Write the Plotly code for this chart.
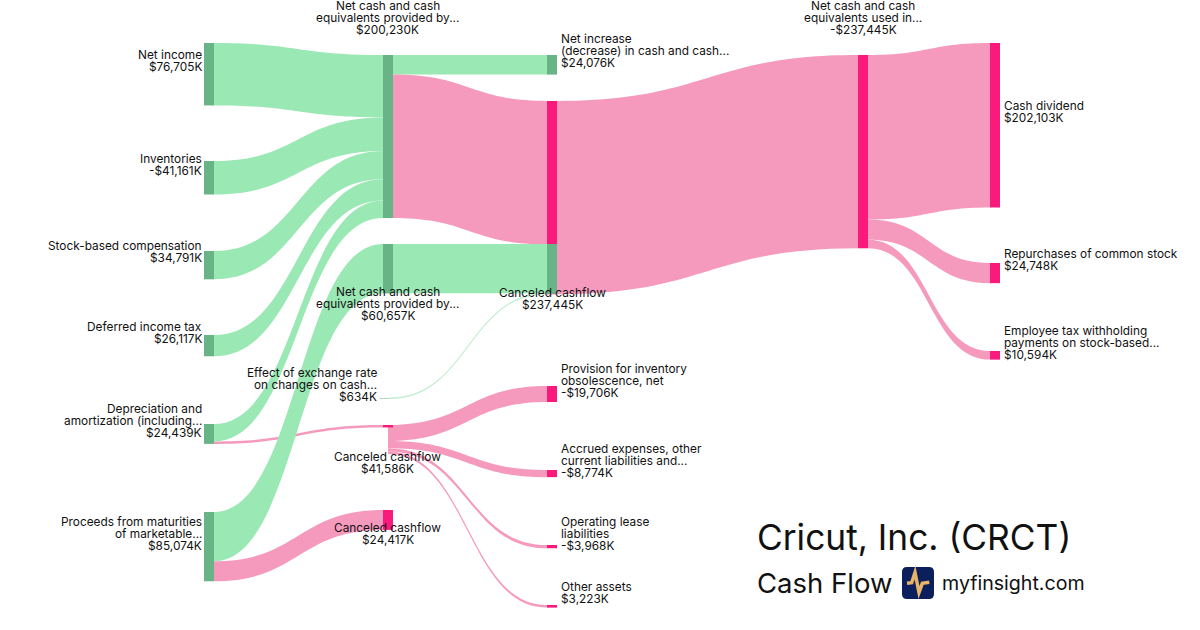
import plotly.graph_objects as go

# ---- data ----
node_names = ["Net income", "Inventories", "Stock-based compensation", "Deferred income tax",
              "Depreciation and amortization", "Proceeds from maturities of marketable",
              "Net cash provided by A", "Net cash provided by B", "Effect of exchange rate",
              "Canceled cashflow 41586", "Canceled cashflow 41586 out", "Canceled cashflow 24417",
              "Net increase", "Canceled cashflow 237445", "Provision for inventory", "Accrued expenses",
              "Operating lease", "Other assets", "Net cash used", "Cash dividend", "Repurchases", "Employee tax",
              "Canceled cashflow 237445 green part"]
link_source = [0, 1, 2, 3, 4, 4, 5, 5, 6, 6, 7, 8, 10, 10, 10, 10, 13, 18, 18, 18]
link_target = [6, 6, 6, 6, 9, 6, 7, 11, 12, 13, 22, 22, 14, 15, 16, 17, 18, 19, 20, 21]
link_value = [76705, 41161, 34791, 26117, 2983, 21456, 60657, 24417, 24076, 176154, 60657, 634,
              19706, 8774, 3968, 3223, 237445, 202103, 24748, 10594]
link_kind = ["g", "g", "g", "g", "p", "g", "g", "p", "g", "p", "g", "faint",
             "p", "p", "p", "p", "p", "p", "p", "p"]
node_kind = ["g", "g", "g", "g", "g", "g", "g", "g", "g", "p", "none", "p",
             "g", "p", "p", "p", "p", "p", "p", "p", "p", "p", "g"]

# ---- layout of the nodes (pixels of the 1200x630 picture) ----
W, H = 1200, 630
PX_PER_VALUE = 0.000814
node_center_x = [209, 209, 209, 209, 209, 209, 388, 388, 384.5, 388, 383, 388,
                 552, 552, 552, 552, 552, 552, 863, 995, 995, 995, 552]
node_top = [43, 161, 251, 335, 424, 512, 55, 244, 398, 425, 425, 510,
            55, 101, 386, 470, 545, 605, 55, 43, 263, 351, 244]

# ---- labels: (lines, x, first line y, anchor) ----
labels = [
    (["Net income", "$76,705K"], 203, 54.8, "right"),
    (["Inventories", "-$41,161K"], 203, 158.8, "right"),
    (["Stock-based compensation", "$34,791K"], 203, 245.8, "right"),
    (["Deferred income tax", "$26,117K"], 203, 326.8, "right"),
    (["Depreciation and", "amortization (including...", "$24,439K"], 203, 408.8, "right"),
    (["Proceeds from maturities", "of marketable...", "$85,074K"], 203, 521.8, "right"),
    (["Net cash and cash", "equivalents provided by...", "$200,230K"], 388, 6, "center"),
    (["Net cash and cash", "equivalents provided by...", "$60,657K"], 388, 292, "center"),
    (["Effect of exchange rate", "on changes on cash...", "$634K"], 378, 372.8, "right"),
    (["Canceled cashflow", "$41,586K"], 388, 457, "center"),
    (["Canceled cashflow", "$24,417K"], 388, 528, "center"),
    (["Canceled cashflow", "$237,445K"], 552, 293, "center"),
    (["Net increase", "(decrease) in cash and cash...", "$24,076K"], 560, 38.8, "left"),
    (["Provision for inventory", "obsolescence, net", "-$19,706K"], 560, 368.8, "left"),
    (["Accrued expenses, other", "current liabilities and...", "-$8,774K"], 560, 448.8, "left"),
    (["Operating lease", "liabilities", "-$3,968K"], 560, 521.8, "left"),
    (["Other assets", "$3,223K"], 560, 586.8, "left"),
    (["Net cash and cash", "equivalents used in...", "-$237,445K"], 863, 6, "center"),
    (["Cash dividend", "$202,103K"], 1003, 105.8, "left"),
    (["Repurchases of common stock", "$24,748K"], 1003, 253.8, "left"),
    (["Employee tax withholding", "payments on stock-based...", "$10,594K"], 1003, 330.8, "left"),
]
FONT = "Inter"
LABEL_SIZE = 11.85
GREEN_NODE, PINK_NODE = "#69b486", "#f91a7b"
LINK_COLORS = {"g": "#9ae8b4", "p": "#f59abd", "faint": "#c4f1d3"}
TEXT = "#111111"

totals_in = [0] * len(node_names)
totals_out = [0] * len(node_names)
for s, t, v in zip(link_source, link_target, link_value):
    totals_out[s] += v
    totals_in[t] += v
totals = [max(a, b) for a, b in zip(totals_in, totals_out)]
node_y = [(top + v * PX_PER_VALUE / 2) / H for top, v in zip(node_top, totals)]
node_x = [x / W for x in node_center_x]
colors = {"g": GREEN_NODE, "p": PINK_NODE, "none": "rgba(0,0,0,0)"}

fig = go.Figure(go.Sankey(
    arrangement="fixed",
    domain=dict(x=[0, 1], y=[0, 1]),
    hoverinfo="none",
    node=dict(label=[""] * len(node_names), x=node_x, y=node_y, thickness=10, pad=31.59,
              color=[colors[k] for k in node_kind], line=dict(width=0)),
    link=dict(source=link_source, target=link_target, value=link_value,
              color=[LINK_COLORS[k] for k in link_kind],
              line=dict(width=0)),
))


def text(s, x, y, anchor="left", size=LABEL_SIZE):
    fig.add_annotation(text=s, x=x / W, y=1 - y / H, xref="paper", yref="paper",
                       xanchor=anchor, yanchor="middle", showarrow=False, borderpad=0,
                       align=anchor, font=dict(family=FONT, size=size, color=TEXT))


for lines, x, y, anchor in labels:
    for i, line in enumerate(lines):
        text(line, x, y + 12 * i, anchor)

text("Cricut, Inc. (CRCT)", 756, 537, size=35.3)
text("Cash Flow", 756, 583, size=27.5)
text("myfinsight.com", 941, 583, size=19.6)


def px(x):
    return x / W


def py(y):
    return 1 - y / H


def path(points):
    return "M" + " L".join(f"{px(a):.5f},{py(b):.5f}" for a, b in points)


R = 5
fig.add_shape(type="path", xref="paper", yref="paper", line=dict(width=0), fillcolor="#0b1f5c",
              path=(f"M{px(902 + R):.5f},{py(567):.5f} L{px(934 - R):.5f},{py(567):.5f} "
                    f"Q{px(934):.5f},{py(567):.5f} {px(934):.5f},{py(567 + R):.5f} "
                    f"L{px(934):.5f},{py(599 - R):.5f} Q{px(934):.5f},{py(599):.5f} {px(934 - R):.5f},{py(599):.5f} "
                    f"L{px(902 + R):.5f},{py(599):.5f} Q{px(902):.5f},{py(599):.5f} {px(902):.5f},{py(599 - R):.5f} "
                    f"L{px(902):.5f},{py(567 + R):.5f} Q{px(902):.5f},{py(567):.5f} {px(902 + R):.5f},{py(567):.5f} Z"))
fig.add_shape(type="path", xref="paper", yref="paper", line=dict(width=3.5, color="#e6b565"),
              path=path([(907, 583.3), (911.7, 582.7), (915, 572.5), (919, 592.5), (922.3, 583.3), (929.3, 582.3)]))

fig.update_layout(width=W, height=H, margin=dict(l=0, r=0, t=0, b=0),
                  paper_bgcolor="white", plot_bgcolor="white", font=dict(family=FONT))
fig.write_html("out.html", config=dict(displayModeBar=False),
               post_script="document.body.style.margin='0';")
